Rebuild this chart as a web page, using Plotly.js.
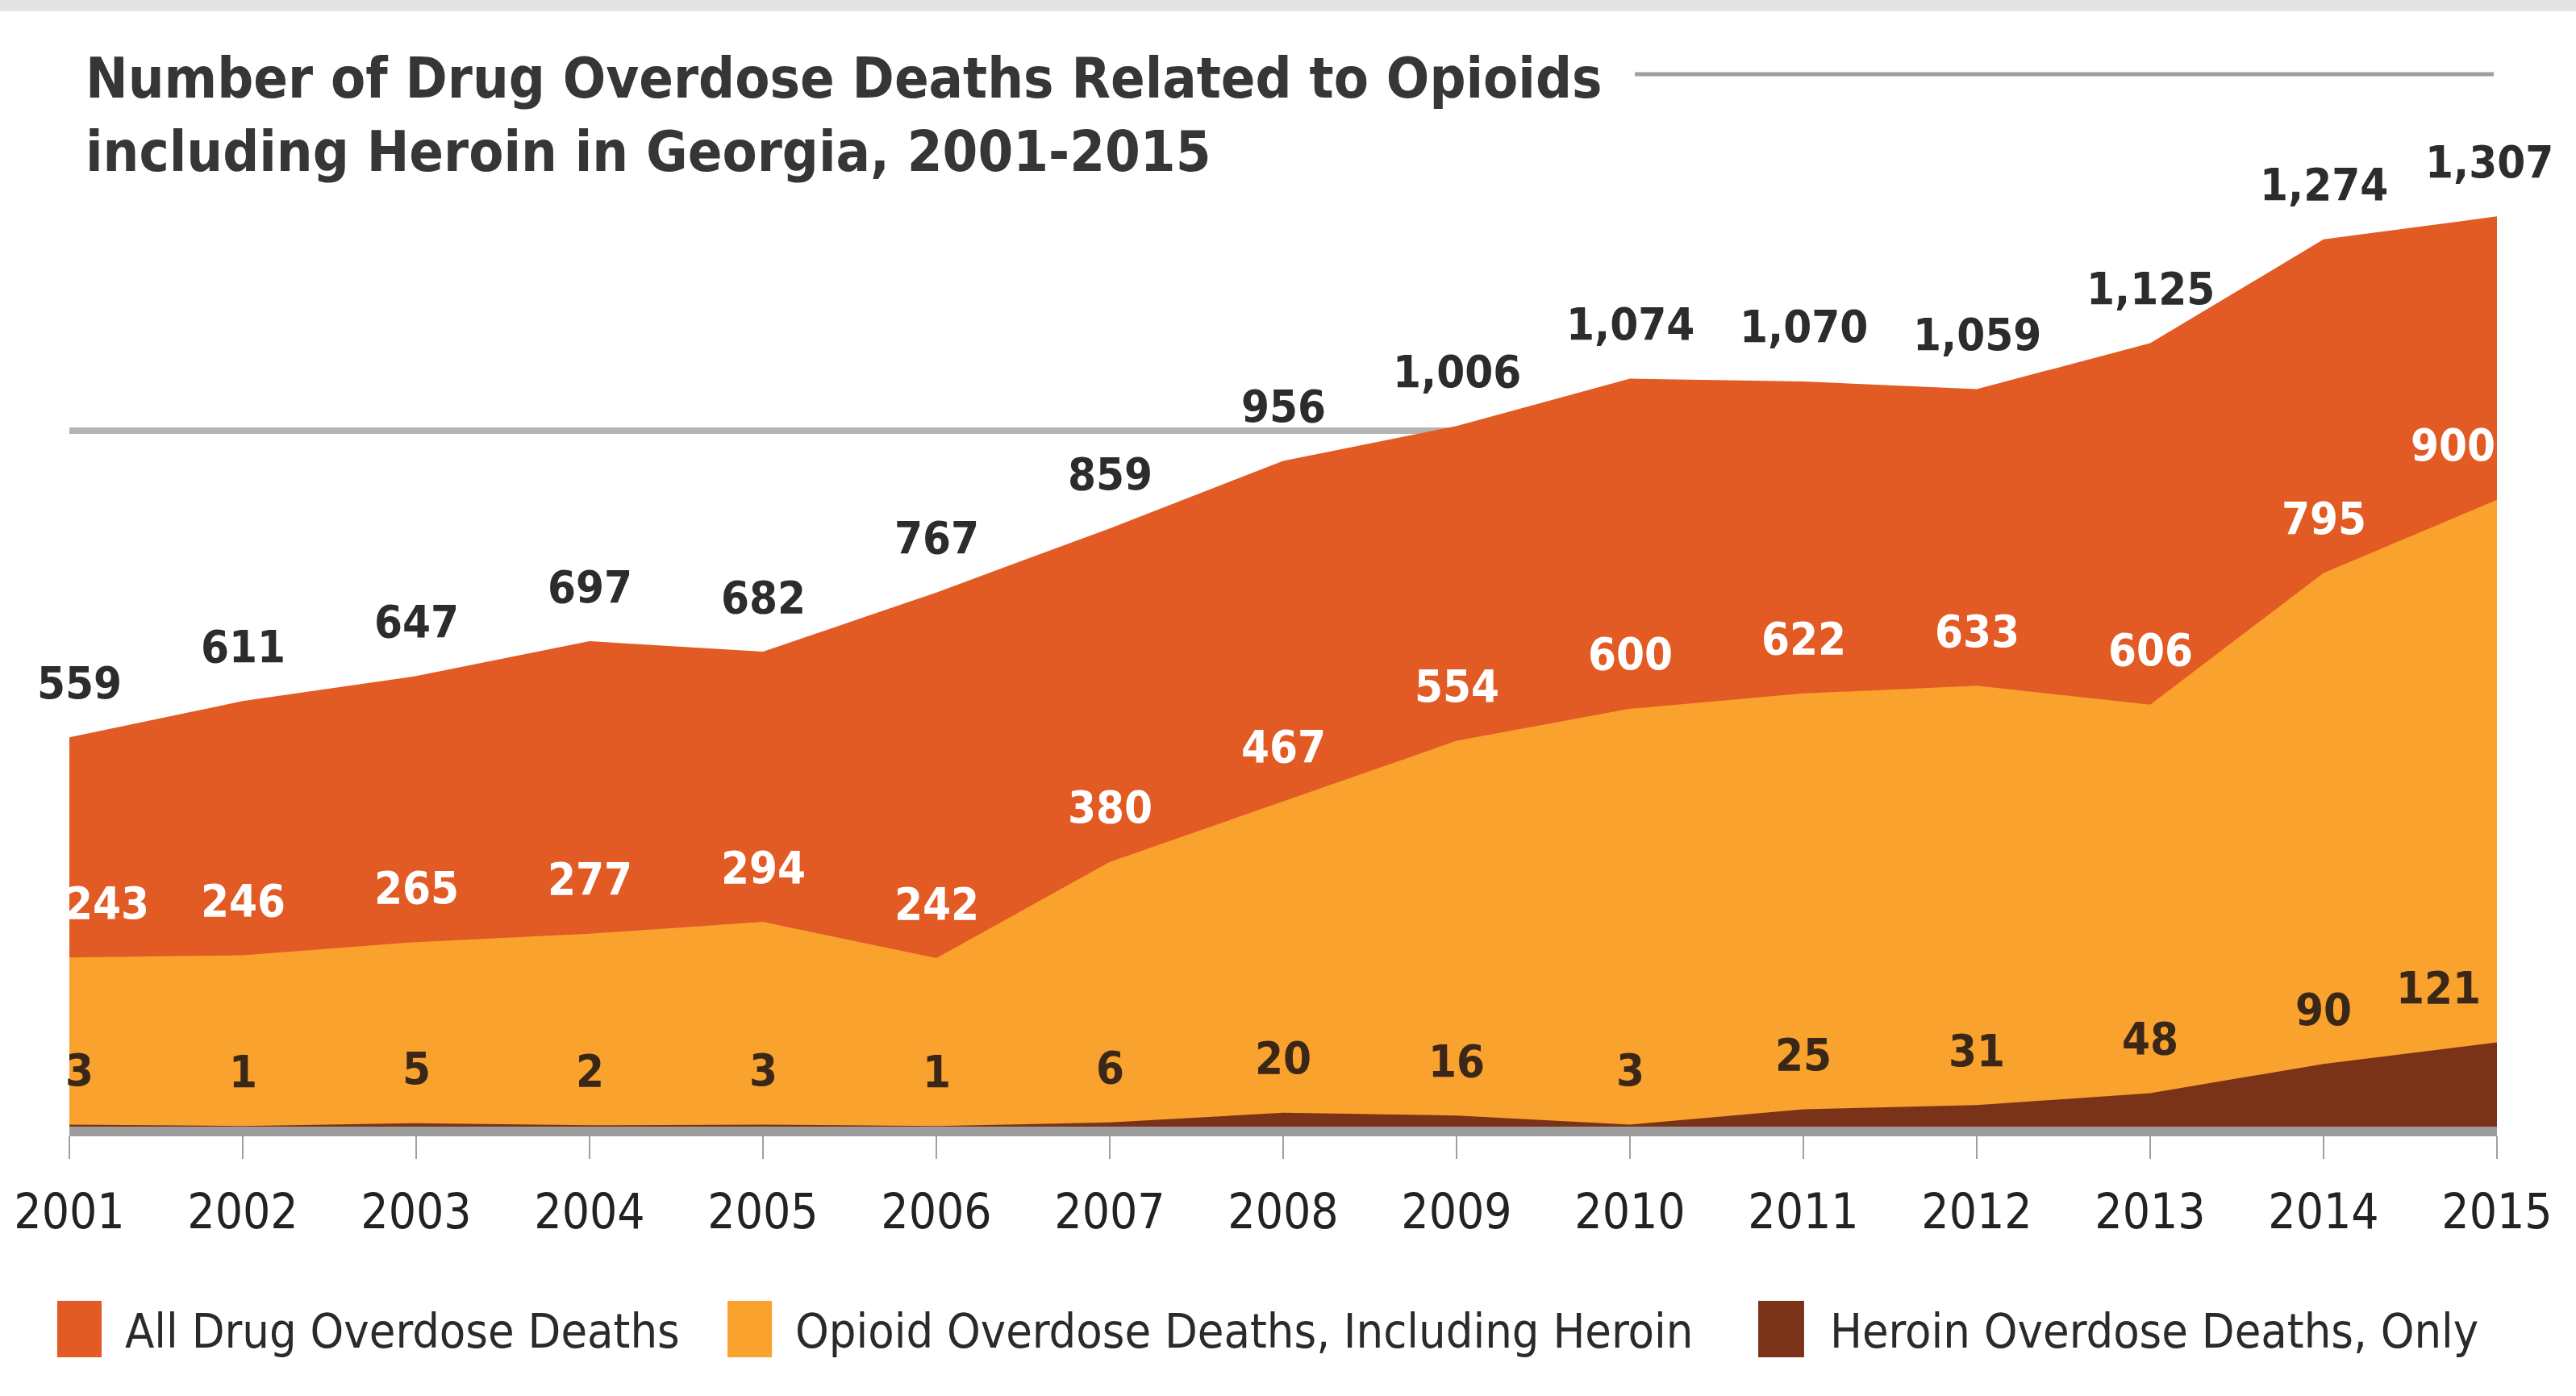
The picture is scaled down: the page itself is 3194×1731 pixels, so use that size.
<!DOCTYPE html>
<html>
<head>
<meta charset="utf-8">
<script src="https://cdn.plot.ly/plotly-3.0.1.min.js"></script>
<style>html,body{margin:0;padding:0;background:#fff;}#chart{width:3194px;height:1731px;}</style>
</head>
<body>
<div id="chart"></div>
<script>
// ---- data ----
const years = [2001, 2002, 2003, 2004, 2005, 2006, 2007, 2008, 2009, 2010, 2011, 2012, 2013, 2014, 2015];
const allDrugDeaths = [559, 611, 647, 697, 682, 767, 859, 956, 1006, 1074, 1070, 1059, 1125, 1274, 1307];
const opioidDeaths = [243, 246, 265, 277, 294, 242, 380, 467, 554, 600, 622, 633, 606, 795, 900];
const heroinDeaths = [3, 1, 5, 2, 3, 1, 6, 20, 16, 3, 25, 31, 48, 90, 121];
const seriesNames = ["All Drug Overdose Deaths", "Opioid Overdose Deaths, Including Heroin", "Heroin Overdose Deaths, Only"];
const titleText = "Number of Drug Overdose Deaths Related to Opioids<br>including Heroin in Georgia, 2001-2015";

// ---- style ----
const FONT = "'DejaVu Sans Condensed', 'DejaVu Sans', sans-serif";
const colors = ["#e25a24", "#f9a22e", "#7a3318"];
const labelColors = ["#2c2c2c", "#ffffff", "#3b2718"];

const seriesValues = [allDrugDeaths, opioidDeaths, heroinDeaths];

const traces = seriesValues.map((vals, k) => ({
  type: "scatter",
  mode: "lines",
  x: years,
  y: vals,
  name: seriesNames[k],
  fill: "tozeroy",
  fillcolor: colors[k],
  line: {width: 0, color: colors[k]},
  hoverinfo: "skip",
  showlegend: false
}));

const annotations = [];
seriesValues.forEach((vals, k) => {
  vals.forEach((v, i) => {
    const a = {
      x: years[i], y: v, xref: "x", yref: "y",
      text: v.toLocaleString("en-US"),
      showarrow: false, yshift: 68, xanchor: "center",
      font: {family: FONT, size: 56, color: labelColors[k], weight: "bold"}
    };
    if (i === 0) {
      if (k === 1) { a.xanchor = "left"; a.xshift = -8; } else { a.xshift = 12; }
    }
    if (i === years.length - 1) {
      if (k === 0) { a.xshift = -10; }
      else if (k === 1) { a.xanchor = "right"; a.xshift = 0; }
      else { a.xanchor = "right"; a.xshift = -18; }
    }
    annotations.push(a);
  });
});

// custom legend (paper coords)
const legendItems = [
  {x0: -0.0050, x1: 0.0133, tx: 0.0223},
  {x0: 0.2711, x1: 0.2894, tx: 0.2983},
  {x0: 0.6957, x1: 0.7146, tx: 0.7246}
];
const shapes = [
  // top grey band
  {type: "rect", xref: "paper", yref: "paper", x0: -0.0286, x1: 1.0326, y0: 1.1439, y1: 1.1560,
   fillcolor: "#e4e4e4", line: {width: 0}, layer: "above"},
  // rule after title
  {type: "line", xref: "paper", yref: "paper", x0: 0.6449, x1: 0.9987, y0: 1.0794, y1: 1.0794,
   line: {color: "#9d9d9d", width: 5}, layer: "above"},
  // rule behind area
  {type: "line", xref: "paper", yref: "paper", x0: 0, x1: 1, y0: 0.7138, y1: 0.7138,
   line: {color: "#b4b4b4", width: 8}, layer: "below"}
];
legendItems.forEach((it, k) => {
  shapes.push({type: "rect", xref: "paper", yref: "paper", x0: it.x0, x1: it.x1, y0: -0.2366, y1: -0.1787,
    fillcolor: colors[k], line: {width: 0}});
  annotations.push({xref: "paper", yref: "paper", x: it.tx, y: -0.2093, xanchor: "left", yanchor: "middle",
    text: seriesNames[k], showarrow: false, font: {family: FONT, size: 59, color: "#2a2a2a"}});
});

const layout = {
  width: 3194, height: 1731,
  margin: {l: 86, r: 98, t: 188, b: 334, pad: 0},
  paper_bgcolor: "#ffffff", plot_bgcolor: "#ffffff",
  title: {
    text: titleText, xref: "container", yref: "container",
    x: 0.0332, xanchor: "left", y: 0.930, yanchor: "top",
    font: {family: FONT, size: 70, color: "#363636", weight: "bold"}
  },
  xaxis: {
    range: [2001, 2015], tickvals: years, ticktext: years.map(String),
    showgrid: false, zeroline: false,
    showline: true, linecolor: "rgba(140,140,140,0.85)", linewidth: 12,
    ticks: "outside", ticklen: 28, tickwidth: 2, tickcolor: "#a0a0a0",
    tickfont: {family: FONT, size: 60, color: "#222222"}, fixedrange: true,
    ticklabelstandoff: 14
  },
  yaxis: {range: [0, 1400], visible: false, fixedrange: true},
  shapes: shapes,
  annotations: annotations,
  showlegend: false
};

Plotly.newPlot("chart", traces, layout, {displayModeBar: false, staticPlot: true});
</script>
</body>
</html>
